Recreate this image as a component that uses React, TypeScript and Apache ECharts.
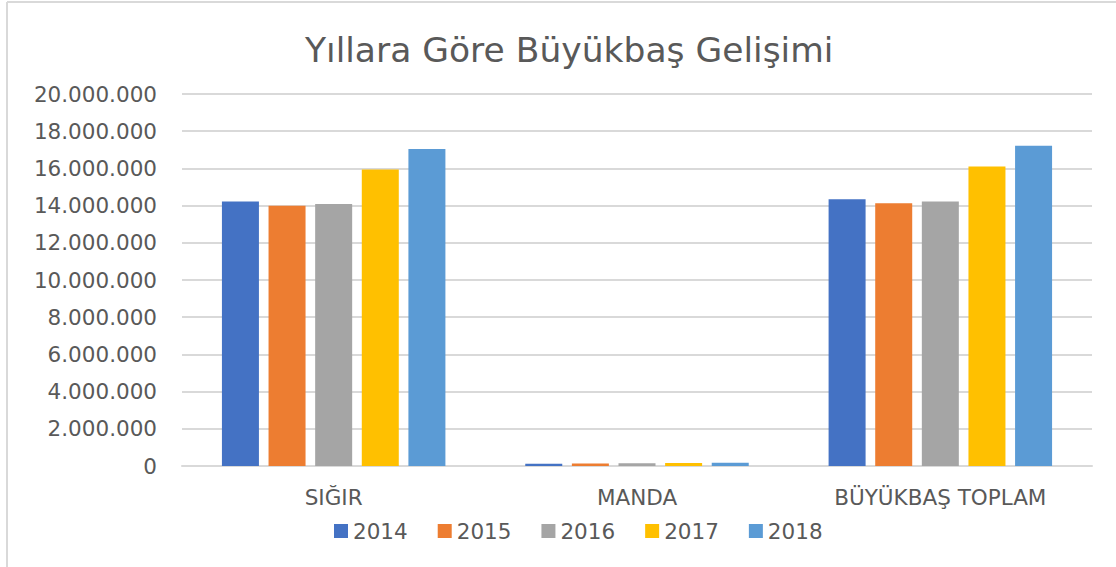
import React, { useEffect, useRef } from "react";
import * as echarts from "echarts";

const categories = ["SIĞIR", "MANDA", "BÜYÜKBAŞ TOPLAM"];
const years = ["2014", "2015", "2016", "2017", "2018"];
const values2014 = [14223109, 121826, 14344935];
const values2015 = [13994071, 133766, 14127837];
const values2016 = [14080155, 142073, 14222228];
const values2017 = [15943586, 161439, 16105025];
const values2018 = [17042506, 178397, 17220903];
const seriesValues = [values2014, values2015, values2016, values2017, values2018];
const colors = ["#4472C4", "#ED7D31", "#A5A5A5", "#FFC000", "#5B9BD5"];
const yMin = 0;
const yMax = 20000000;
const yStep = 2000000;

const fmt = (v: number) => String(Math.round(v)).replace(/\B(?=(\d{3})+(?!\d))/g, ".");

export default function App() {
  const ref = useRef<HTMLDivElement>(null);
  useEffect(() => {
    if (!ref.current) return;
    const chart = echarts.init(ref.current, null, { renderer: "svg" });
    const font = "'DejaVu Sans', 'Open Sans', sans-serif";
    chart.setOption({
      animation: false,
      backgroundColor: "#ffffff",
      textStyle: { fontFamily: font },
      title: {
        text: "Yıllara Göre Büyükbaş Gelişimi",
        left: 300,
        top: 27,
        textStyle: { fontFamily: font, fontSize: 34.5, fontWeight: "normal", color: "#595959" },
      },
      graphic: [
        { type: "line", shape: { x1: 7, y1: 2, x2: 7, y2: 567 }, style: { stroke: "#d9d9d9", lineWidth: 2 } },
        { type: "line", shape: { x1: 7, y1: 2, x2: 1116, y2: 2 }, style: { stroke: "#d9d9d9", lineWidth: 2 } },
      ],
      legend: {
        data: years,
        top: 515,
        left: 329,
        itemWidth: 14,
        itemHeight: 14,
        itemGap: 30,
        icon: "rect",
        textStyle: { fontFamily: font, fontSize: 21.5, color: "#595959" },
      },
      grid: { left: 182, right: 24, top: 94, bottom: 101, containLabel: false },
      xAxis: {
        type: "category",
        data: categories,
        axisLine: { lineStyle: { color: "#d9d9d9", width: 2 } },
        axisTick: { show: false },
        axisLabel: { fontFamily: font, fontSize: 21.5, color: "#595959", margin: 20 },
      },
      yAxis: {
        type: "value",
        min: yMin,
        max: yMax,
        interval: yStep,
        axisLine: { show: false },
        axisTick: { show: false },
        splitLine: { lineStyle: { color: "#d9d9d9", width: 2 } },
        axisLabel: { fontFamily: font, fontSize: 21.5, color: "#595959", margin: 25, formatter: (v: number) => fmt(v) },
      },
      series: years.map((y, i) => ({
        name: y,
        type: "bar",
        data: seriesValues[i],
        barWidth: 37,
        barGap: "26%",
        itemStyle: { color: colors[i] },
      })),
    });
    return () => chart.dispose();
  }, []);
  return (
    <div
      ref={ref}
      style={{ position: "absolute", left: 0, top: 0, width: 1116, height: 567 }}
    />
  );
}
